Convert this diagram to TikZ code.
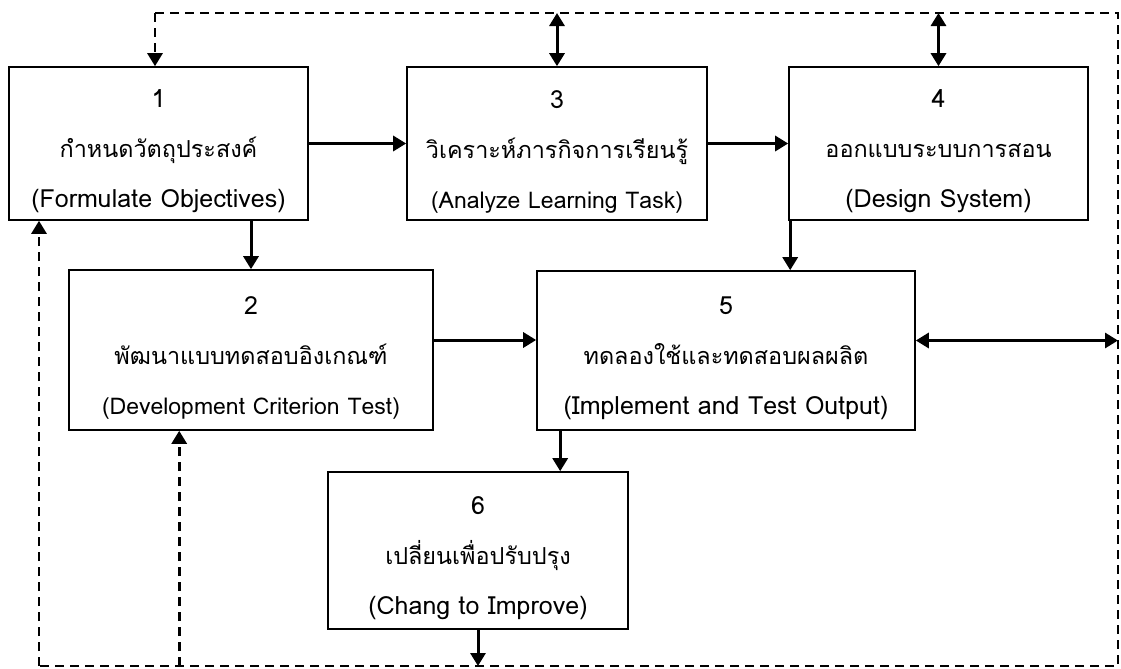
\documentclass[tikz,border=0pt]{standalone}
\usepackage{fontspec}
\usepackage{tikz}
\usetikzlibrary{arrows.meta}
\newfontfamily\thaifont[Script=Thai]{Loma}
\newcommand{\steplines}[3]{\rule{0pt}{17pt}#1\\{\fontsize{11.7pt}{25pt}\selectfont #2}\\#3}

\begin{document}
\begin{tikzpicture}[x=0.5pt, y=-0.5pt,
  stepbox/.style={draw, rectangle, line width=0.8pt, align=center, inner sep=0pt, font=\thaifont\fontsize{12.5pt}{25pt}\selectfont},
  flow/.style={line width=1.5pt, -{Triangle[length=6.5pt,width=7.5pt]}},
  twoway/.style={line width=1.5pt, {Triangle[length=6.5pt,width=7.5pt]}-{Triangle[length=6.5pt,width=7.5pt]}},
  loopback/.style={line width=1.4pt, dash pattern=on 4.5pt off 3pt}]%
\useasboundingbox (0, 0) rectangle (1121, 669);%
% the six steps
\node[stepbox, minimum width=149.5pt, minimum height=76.5pt] (obj) at (158.5, 143.5) {\steplines{1}{กำหนดวัตถุประสงค์}{(Formulate Objectives)}};%
\node[stepbox, minimum width=182pt, minimum height=80pt] (crit) at (251, 350) {\steplines{2}{พัฒนาแบบทดสอบอิงเกณฑ์}{{\fontsize{11.5pt}{25pt}\selectfont(Development Criterion Test)}}};%
\node[stepbox, minimum width=150pt, minimum height=76.5pt] (task) at (557, 143.5) {\steplines{3}{วิเคราะห์ภารกิจการเรียนรู้}{{\fontsize{11.5pt}{25pt}\selectfont(Analyze Learning Task)}}};%
\node[stepbox, minimum width=149.5pt, minimum height=76.5pt] (design) at (938.5, 143.5) {\steplines{4}{ออกแบบระบบการสอน}{(Design System)}};%
\node[stepbox, minimum width=189pt, minimum height=79.5pt] (impl) at (726, 350.5) {\steplines{5}{ทดลองใช้และทดสอบผลผลิต}{(Implement and Test Output)}};%
\node[stepbox, minimum width=150pt, minimum height=78.5pt] (change) at (478, 550.5) {\steplines{6}{เปลี่ยนเพื่อปรับปรุง}{(Chang to Improve)}};%
% corners of the feedback loop
\coordinate (tl) at (155, 13);%
\coordinate (tr) at (1118, 13);%
\coordinate (br) at (1118, 666);%
\coordinate (bl) at (39, 666);%
% main flow
\draw[flow] (obj.east) -- (task.west);%
\draw[flow] (task.east) -- (design.west);%
\draw[flow] (crit.north |- obj.south) -- (crit.north);%
\draw[flow] ([yshift=5pt]crit.east) -- ([yshift=5pt]crit.east -| impl.west);%
\draw[flow] ([xshift=1pt]design.south west) -- ([xshift=1pt]design.south west |- impl.north);%
\draw[flow] ([xshift=12pt]impl.south west) -- ([xshift=12pt]impl.south west |- change.north);%
\draw[flow] (change.south) -- (change.south |- bl);%
% feedback
\draw[loopback] (tl) -- (tr) -- (br) -- (bl);%
\draw[loopback, -{Triangle[length=6.5pt,width=7.5pt]}] (tl) -- (tl |- obj.north);%
\draw[loopback, -{Triangle[length=6.5pt,width=7.5pt]}] (bl) -- (bl |- obj.south);%
\draw[loopback, -{Triangle[length=6.5pt,width=7.5pt]}] ([xshift=55.5pt]crit.south west |- bl) -- ([xshift=55.5pt]crit.south west);%
\draw[twoway] (task.north |- tl) -- (task.north);%
\draw[twoway] (design.north |- tl) -- (design.north);%
\draw[twoway] ([yshift=5pt]impl.east) -- ([yshift=5pt]impl.east -| br);%
\end{tikzpicture}
\end{document}
